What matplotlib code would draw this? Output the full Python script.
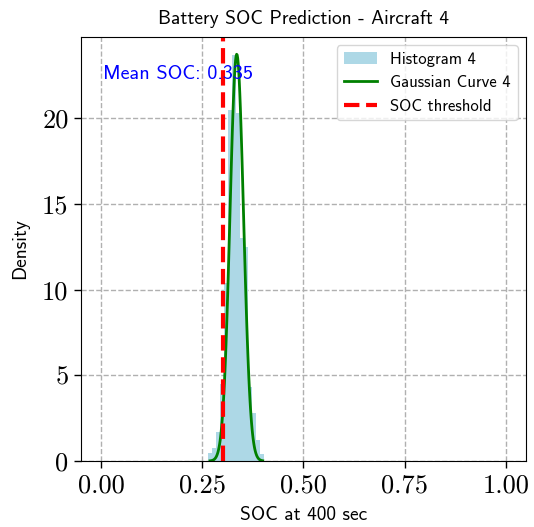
import numpy as np
import matplotlib
matplotlib.use("Agg")
import matplotlib.pyplot as plt

# histogram of simulated SOC values
bin_edges = [0.2649, 0.2748, 0.2847, 0.2946, 0.3044, 0.3143, 0.3242, 0.3341,
             0.3440, 0.3538, 0.3637, 0.3736, 0.3835, 0.3933, 0.4032]
bin_density = [0.45, 0.75, 1.7, 4.5, 10.4, 20.5, 23.7, 20.3,
               13.0, 12.5, 4.3, 2.8, 1.2, 0.4]

# fitted gaussian
mean_soc = 0.335
std_soc = 0.0168
soc_threshold = 0.3
x_ticks = [0.0, 0.25, 0.5, 0.75, 1.0]
y_ticks = [0, 5, 10, 15, 20]

sans = "cmss10"
serif = "cmr10"

fig = plt.figure(figsize=(5.34, 5.27), dpi=100)
ax = fig.add_axes([0.1517, 0.1252, 0.8333, 0.8046])
ax.set_axisbelow(True)
ax.grid(True, linestyle="--", color="#b0b0b0", linewidth=1.0)

centers = [(a + b) / 2 for a, b in zip(bin_edges[:-1], bin_edges[1:])]
ax.hist(centers, bins=bin_edges, weights=bin_density, color="lightblue",
        label="Histogram 4")

xs = np.linspace(bin_edges[0] + 0.004, bin_edges[-1] - 0.004, 100)
pdf = np.exp(-0.5 * ((xs - mean_soc) / std_soc) ** 2) / (std_soc * np.sqrt(2 * np.pi))
ax.plot(xs, pdf, color="green", linewidth=2, label="Gaussian Curve 4")

ax.axvline(soc_threshold, color="red", linestyle="--", linewidth=3,
           label="SOC threshold")

ax.text(0.05, 0.935, f"Mean SOC: {mean_soc:.3f}", transform=ax.transAxes,
        color="blue", fontsize=14.5, family=sans, va="top", ha="left")

ax.set_xlim(-0.05, 1.05)
ax.set_ylim(0, 24.75)
ax.set_xticks(x_ticks)
ax.set_xticklabels([f"{t:.2f}" for t in x_ticks])
ax.set_yticks(y_ticks)
ax.set_yticklabels([str(t) for t in y_ticks])
ax.tick_params(labelsize=19, length=5, width=1, pad=4, labelfontfamily=serif)

ax.set_title("Battery SOC Prediction - Aircraft 4", fontsize=14, family=sans, pad=9)
ax.set_xlabel("SOC at 400 sec", fontsize=14, family=sans, labelpad=6)
ax.set_ylabel("Density", fontsize=14, family=sans, labelpad=9)

ax.legend(loc="upper right", prop={"family": sans, "size": 12})

fig.savefig("out.png", dpi=100)
